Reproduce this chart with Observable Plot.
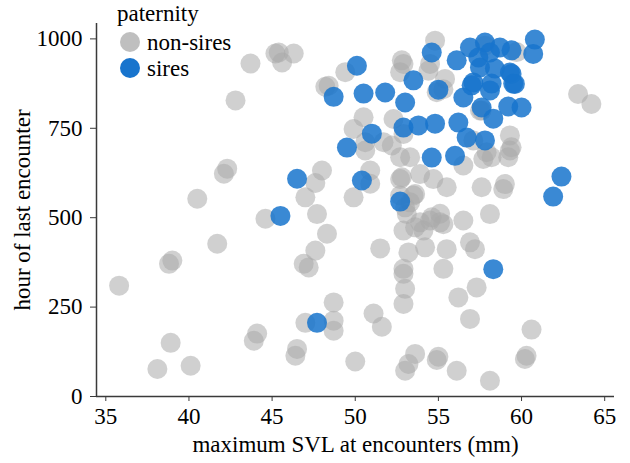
<!DOCTYPE html>
<html>
<head>
<meta charset="utf-8">
<script src="https://cdn.jsdelivr.net/npm/d3@7"></script>
<script src="https://cdn.jsdelivr.net/npm/@observablehq/plot@0.6"></script>
<style>
  html, body { margin: 0; padding: 0; background: #fff; }
  #wrap { position: relative; width: 630px; height: 463px; font-family: 'Liberation Serif'; }
  #legend { position: absolute; left: 117px; top: 0px; font-size: 23px; color: #000; line-height: 1; font-family: 'Liberation Serif'; }
  #legend .title { height: 27px; padding-top: 2px; }
  #legend .row { display: flex; align-items: center; height: 26px; }
  #legend .sw { width: 20px; height: 20px; border-radius: 50%; margin-left: 3px; margin-right: 7px; }
</style>
</head>
<body>
<div id="wrap"><div id="chart"></div><div id="legend"></div></div>
<script>
// Data
const groups = ["non-sires", "sires"];
const groupColors = ["#a9a9a9", "#1874cd"];

const nonSiresSVL = [35.8,38.1,38.9,38.8,39.0,40.1,40.5,41.7,42.1,42.3,42.8,43.7,43.9,44.1,44.6,45.2,45.4,45.6,46.3,46.5,46.4,47.0,48.7,48.7,48.7,50.0,51.1,51.6,48.0,47.6,47.0,47.7,48.3,47.6,46.9,47.2,50.6,50.9,50.9,49.9,51.5,48.4,49.4,50.5,49.9,50.6,48.2,52.9,52.7,54.8,54.5,52.3,52.2,53.3,53.9,52.8,54.7,55.5,52.7,53.3,53.6,55.1,54.5,57.6,58.9,59.3,59.3,57.9,58.2,56.5,57.1,57.6,55.3,53.1,51.7,52.7,52.7,53.5,53.0,54.6,55.1,53.9,56.5,52.9,53.6,54.1,59.0,58.1,57.7,59.2,56.9,57.2,55.5,54.2,53.2,52.9,55.3,53.0,52.9,52.9,56.2,57.3,56.9,53.6,53.2,53.0,54.9,55.0,56.1,58.1,60.6,60.3,60.2,55.3,63.4,64.2,59.4,59.7,54.9,55.4,52.8,54.4,52.9,57.5,57.8];
const nonSiresHour = [310,77,150,371,380,86,553,427,623,637,828,931,156,176,497,959,962,934,959,133,114,206,263,212,184,98,232,195,632,597,557,510,455,408,371,361,688,632,595,557,414,869,907,781,748,711,866,930,907,995,930,776,702,669,622,613,608,585,562,543,566,511,492,585,580,688,730,683,669,646,716,800,859,510,711,669,608,562,529,501,487,487,492,464,473,464,594,510,664,669,431,412,412,417,403,357,357,301,259,343,277,305,217,119,91,72,102,111,72,44,187,114,105,482,846,818,697,963,851,888,940,911,734,800,981];

const siresSVL = [45.5,46.5,47.7,48.7,49.5,50.1,50.5,51.8,50.4,51.0,52.7,53.0,53.5,52.9,53.8,54.8,54.6,54.6,55.0,56.2,56.0,56.7,57.8,58.3,59.2,60.0,62.4,61.9,56.1,56.9,57.8,60.8,60.7,58.7,57.5,57.1,58.2,59.5,59.3,58.4,57.6,56.5,58.1,57.4,58.1,57.0,58.3,59.4,59.4,59.6];
const siresHour = [505,609,206,838,696,925,847,850,604,735,545,822,884,752,758,763,668,962,858,766,673,724,716,777,811,808,615,559,940,976,990,998,958,976,920,878,875,875,906,917,808,836,962,948,856,870,356,968,902,874];

const xTicks = [35,40,45,50,55,60,65];
const yTicks = [0,250,500,750,1000];
const xLabel = "maximum SVL at encounters (mm)";
const yLabel = "hour of last encounter";
const legendTitle = "paternity";

const rows = [
  ...nonSiresSVL.map((v, i) => ({svl: v, hour: nonSiresHour[i], paternity: groups[0]})),
  ...siresSVL.map((v, i) => ({svl: v, hour: siresHour[i], paternity: groups[1]}))
];

const xDomain = [34.44, 65.59];
const yDomain = [0, 1043];
const axisColor = "#3a3a3a";
const serif = "Liberation Serif";

const chart = Plot.plot({
  width: 630,
  height: 463,
  marginLeft: 96,
  marginRight: 16,
  marginTop: 23,
  marginBottom: 67,
  style: {fontFamily: serif, fontSize: "23px", color: "#000", background: "#fff"},
  x: {domain: xDomain},
  y: {domain: yDomain},
  color: {domain: groups, range: groupColors},
  marks: [
    Plot.dot(rows.filter(d => d.paternity === groups[0]), {x: "svl", y: "hour", r: 10, fill: "paternity", fillOpacity: 0.55, stroke: "none"}),
    Plot.dot(rows.filter(d => d.paternity === groups[1]), {x: "svl", y: "hour", r: 10, fill: "paternity", fillOpacity: 0.85, stroke: "none"}),
    Plot.ruleY([yDomain[0]], {stroke: axisColor, strokeWidth: 1.5}),
    Plot.ruleX([xDomain[0]], {stroke: axisColor, strokeWidth: 1.5}),
    Plot.axisX({ticks: xTicks, tickFormat: d3.format("d"), tickSize: 5, tickPadding: 6, stroke: axisColor, fill: "#000", fontSize: 23, fontFamily: serif, label: xLabel, labelAnchor: "center", labelOffset: 55, labelArrow: "none"}),
    Plot.axisY({ticks: yTicks, tickFormat: d3.format("d"), tickSize: 6, tickPadding: 8, stroke: axisColor, fill: "#000", fontSize: 23, fontFamily: serif, label: yLabel, labelAnchor: "center", labelOffset: 83, labelArrow: "none"})
  ]
});
document.getElementById("chart").appendChild(chart);
d3.select(chart).selectAll("text").attr("font-family", serif).style("font-family", "'Liberation Serif'");

const legend = document.getElementById("legend");
const t = document.createElement("div");
t.className = "title";
t.textContent = legendTitle;
legend.appendChild(t);
groups.forEach((g, i) => {
  const row = document.createElement("div");
  row.className = "row";
  const sw = document.createElement("span");
  sw.className = "sw";
  sw.style.background = groupColors[i];
  sw.style.opacity = i === 0 ? 0.75 : 1;
  const lab = document.createElement("span");
  lab.textContent = g;
  row.appendChild(sw);
  row.appendChild(lab);
  legend.appendChild(row);
});
</script>
</body>
</html>
